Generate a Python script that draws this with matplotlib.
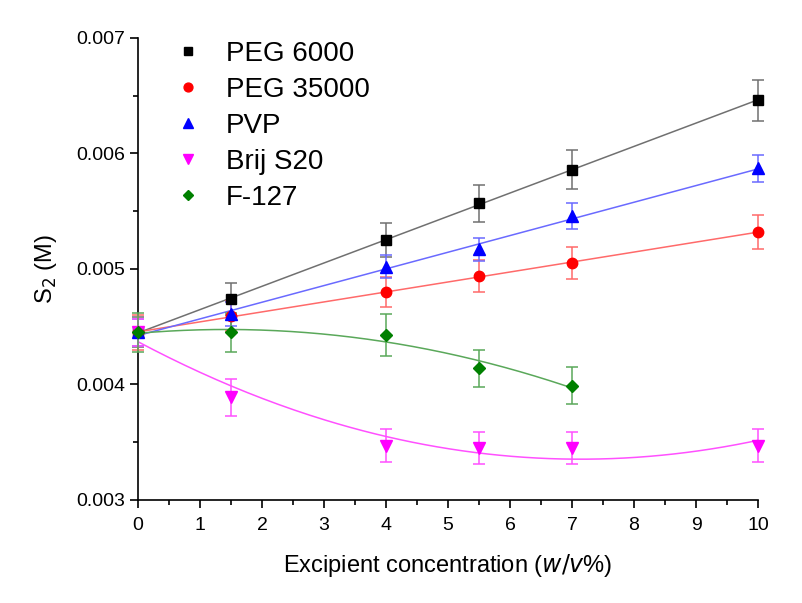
import matplotlib

matplotlib.use("Agg")

import matplotlib.pyplot as plt
import numpy as np

plt.rcParams["font.family"] = ["Liberation Sans", "DejaVu Sans"]

# excipient concentration (w/v%)
conc = [0, 1.5, 4, 5.5, 7, 10]
conc_f127 = [0, 1.5, 4, 5.5, 7]

# S2 (M) and standard deviations
peg6000 = [0.00445, 0.00474, 0.00525, 0.00557, 0.00586, 0.00646]
peg6000_err = [0.00013, 0.00014, 0.00015, 0.00016, 0.00017, 0.00018]
peg35000 = [0.00445, 0.00459, 0.00480, 0.00494, 0.00505, 0.00532]
peg35000_err = [0.00015, 0.00013, 0.00013, 0.00014, 0.00014, 0.00015]
pvp = [0.00445, 0.00461, 0.00502, 0.00517, 0.00546, 0.00587]
pvp_err = [0.00012, 0.00010, 0.00010, 0.00010, 0.00011, 0.00012]
brij = [0.00445, 0.00389, 0.00347, 0.00345, 0.00345, 0.00347]
brij_err = [0.00012, 0.00016, 0.00014, 0.00014, 0.00014, 0.00014]
f127 = [0.00445, 0.00445, 0.00443, 0.00414, 0.00399]
f127_err = [0.00017, 0.00017, 0.00018, 0.00016, 0.00016]

series = [
    ("PEG 6000", conc, peg6000, peg6000_err, "black", "s", 1),
    ("PEG 35000", conc, peg35000, peg35000_err, "red", "o", 1),
    ("PVP", conc, pvp, pvp_err, "blue", "^", 1),
    ("Brij S20", conc, brij, brij_err, "magenta", "v", 2),
    ("F-127", conc_f127, f127, f127_err, "green", "D", 2),
]
line_colors = {"black": "#707070", "red": "#ff6a6a", "blue": "#6a6aff",
               "magenta": "#ff50ff", "green": "#5aa85a"}
marker_sizes = {"s": 7, "o": 7.5, "^": 8, "v": 8, "D": 6.5}

fig = plt.figure(figsize=(8.03, 6.03), dpi=100)
ax = fig.add_axes([0.172, 0.171, 0.772, 0.766])

for label, x, y, err, color, marker, order in series:
    x = np.array(x)
    y = np.array(y)
    coef = np.polyfit(x, y, order)
    xs = np.linspace(x.min(), x.max(), 200)
    ax.plot(xs, np.polyval(coef, xs), color=line_colors[color], lw=1.1, zorder=2)
    ax.errorbar(x, y, yerr=err, fmt="none", ecolor=line_colors[color],
                elinewidth=1.1, capsize=4, capthick=1.1, zorder=3, clip_on=False)
    ax.plot(x, y, linestyle="none", marker=marker, color=color,
            markersize=marker_sizes[marker], label=label, zorder=4, clip_on=False)

ax.set_xlim(0, 10)
ax.set_ylim(0.003, 0.007)
ax.set_xticks(np.arange(0, 11, 1))
ax.set_xticks(np.arange(0, 10.5, 0.5), minor=True)
ax.set_yticks([0.003, 0.004, 0.005, 0.006, 0.007])
ax.set_yticklabels(["0.003", "0.004", "0.005", "0.006", "0.007"])
ax.set_yticks(np.arange(0.003, 0.00701, 0.0005), minor=True)

ax.spines["top"].set_visible(False)
ax.spines["right"].set_visible(False)
ax.spines["left"].set_linewidth(1.2)
ax.spines["bottom"].set_linewidth(1.2)
ax.tick_params(which="major", direction="out", length=6, width=1.2, labelsize=14)
ax.tick_params(axis="x", which="major", pad=6)
ax.tick_params(which="minor", direction="out", length=3.5, width=1.2)

ax.set_xlabel("Excipient concentration ($\\it{w/v}$%)", fontsize=17, labelpad=13)
ax.set_ylabel("S$_2$ (M)", fontsize=17, labelpad=12)

ax.legend(loc="upper left", bbox_to_anchor=(0.02, 1.03), frameon=False,
          fontsize=20, handletextpad=0.6, labelspacing=0.36, handlelength=1.5,
          borderaxespad=0.2, markerscale=0.85)

fig.savefig("out.png", dpi=100, facecolor="white")
